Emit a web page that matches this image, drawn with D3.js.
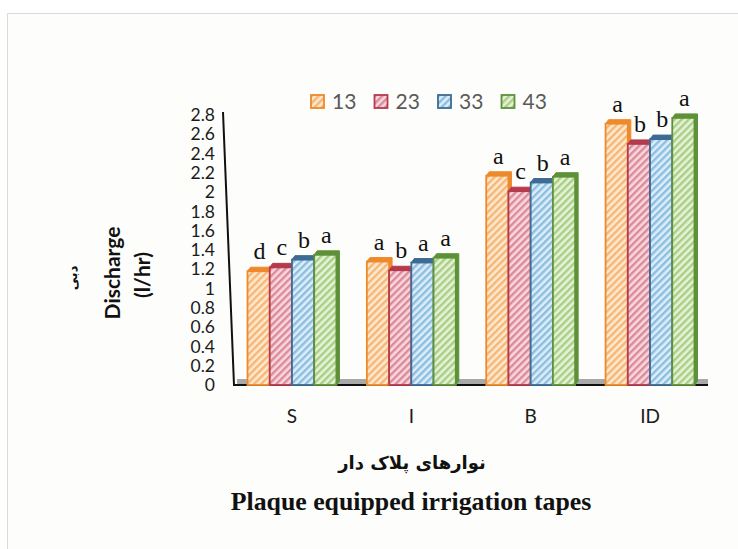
<!DOCTYPE html>
<html lang="en">
<head>
    <meta charset="UTF-8">
    <title>Discharge of plaque equipped irrigation tapes</title>
    <script src="https://d3js.org/d3.v7.min.js"></script>
    <style>
        body { margin: 0; background: #fff; }
        svg { display: block; }
    </style>
</head>
<body>
    <svg width="738" height="549"></svg>

    <script>
        // Data
        const categories = ["S", "I", "B", "ID"];
        const seriesNames = ["13", "23", "33", "43"];
        const values13 = [1.18, 1.28, 2.17, 2.71];
        const values23 = [1.22, 1.19, 2.01, 2.50];
        const values33 = [1.30, 1.27, 2.10, 2.55];
        const values43 = [1.35, 1.32, 2.16, 2.77];
        const letters13 = ["d", "a", "a", "a"];
        const letters23 = ["c", "b", "c", "b"];
        const letters33 = ["b", "a", "b", "b"];
        const letters43 = ["a", "a", "a", "a"];
        const yTicks = [0, 0.2, 0.4, 0.6, 0.8, 1, 1.2, 1.4, 1.6, 1.8, 2, 2.2, 2.4, 2.6, 2.8];

        const allValues = [values13, values23, values33, values43];
        const allLetters = [letters13, letters23, letters33, letters43];

        // colours: [edge, background, stripe]
        const palette = [
            ["#EE8A2C", "#FDE9CF", "#F6B676"],
            ["#B53A4D", "#F8D8DE", "#DC8A99"],
            ["#3E6B94", "#DCEEF9", "#8DBEDF"],
            ["#5E9138", "#E6F2D8", "#A9CF85"]
        ];

        const svg = d3.select("svg");

        // outer frame
        svg.append("rect")
            .attr("x", 7.5).attr("y", 13.5)
            .attr("width", 740).attr("height", 545)
            .attr("fill", "#FDFDFB")
            .attr("stroke", "#DEDAD4");

        // hatch patterns
        const defs = svg.append("defs");
        palette.forEach((c, i) => {
            const p = defs.append("pattern")
                .attr("id", "hatch" + i)
                .attr("patternUnits", "userSpaceOnUse")
                .attr("width", 5).attr("height", 5)
                .attr("patternTransform", "rotate(45)");
            p.append("rect").attr("width", 5).attr("height", 5).attr("fill", c[1]);
            p.append("rect").attr("width", 2.4).attr("height", 5).attr("fill", c[2]);
        });

        const x0 = d3.scaleBand()
            .domain(categories)
            .range([232, 710])
            .paddingInner(0.255)
            .paddingOuter(0.13);

        const x1 = d3.scaleBand()
            .domain(seriesNames)
            .range([0, x0.bandwidth()]);

        const y = d3.scaleLinear()
            .domain([0, 2.8])
            .range([385, 115]);

        // floor + axis line
        svg.append("rect")
            .attr("x", 237).attr("y", 379)
            .attr("width", 471).attr("height", 5)
            .attr("fill", "#A9A9A9");
        svg.append("path")
            .attr("d", "M223,112 L234,385 L708,385")
            .attr("fill", "none")
            .attr("stroke", "#111")
            .attr("stroke-width", 2);

        // y axis labels
        const yAxis = svg.append("g")
            .attr("transform", "translate(215,0)")
            .call(d3.axisLeft(y).tickValues(yTicks).tickSize(0).tickPadding(0)
                .tickFormat(d => String(+d.toFixed(1))));
        yAxis.select(".domain").remove();
        yAxis.selectAll("text")
            .attr("font-family", "Lato, 'Open Sans', sans-serif")
            .attr("font-size", 17.5)
            .attr("fill", "#1a1a1a");

        // x axis labels
        const xAxis = svg.append("g")
            .attr("transform", "translate(0,409.5)")
            .call(d3.axisBottom(x0).tickSize(0).tickPadding(0));
        xAxis.select(".domain").remove();
        xAxis.selectAll("text")
            .attr("font-family", "Lato, 'Open Sans', sans-serif")
            .attr("font-size", 19)
            .attr("fill", "#1a1a1a");

        // bars (front face + 3D top)
        const dx = 3, dy = 4;
        const rows = [];
        categories.forEach((cat, ci) => {
            seriesNames.forEach((s, si) => {
                rows.push({ cat, s, si, v: allValues[si][ci], letter: allLetters[si][ci] });
            });
        });

        const bars = svg.append("g").selectAll("g")
            .data(rows)
            .join("g")
            .attr("transform", d => `translate(${x0(d.cat) + x1(d.s)},0)`);

        const bw = x1.bandwidth();

        bars.append("path")
            .attr("d", d => {
                const t = y(d.v);
                return `M0,${t} L${dx},${t - dy} L${bw + dx},${t - dy} L${bw + dx},${y(0) - dy} L${bw},${y(0)} L${bw},${t} Z`;
            })
            .attr("fill", d => palette[d.si][0])
            .attr("stroke", d => palette[d.si][0])
            .attr("stroke-width", 1);

        bars.append("rect")
            .attr("x", 0)
            .attr("y", d => y(d.v))
            .attr("width", bw)
            .attr("height", d => y(0) - y(d.v))
            .attr("fill", d => `url(#hatch${d.si})`)
            .attr("stroke", d => palette[d.si][0])
            .attr("stroke-width", 1.8);

        bars.append("text")
            .attr("x", bw / 2 + 1)
            .attr("y", d => y(d.v) - dy - 8)
            .attr("text-anchor", "middle")
            .attr("font-family", "'Liberation Serif', 'Times New Roman', serif")
            .attr("font-size", 24)
            .attr("fill", "#111")
            .text(d => d.letter);

        // legend
        const legend = svg.append("g").selectAll("g")
            .data(seriesNames)
            .join("g")
            .attr("transform", (d, i) => `translate(${311 + i * 63.5},95)`);
        legend.append("rect")
            .attr("width", 13).attr("height", 13)
            .attr("fill", (d, i) => `url(#hatch${i})`)
            .attr("stroke", (d, i) => palette[i][0])
            .attr("stroke-width", 1.8);
        legend.append("text")
            .attr("x", 21).attr("y", 13.5)
            .attr("font-family", "Lato, 'Open Sans', sans-serif")
            .attr("font-size", 21)
            .attr("fill", "#595959")
            .text(d => d);

        // axis titles
        svg.append("text")
            .attr("transform", "translate(120,273) rotate(-90)")
            .attr("text-anchor", "middle")
            .attr("font-family", "Lato, 'Open Sans', sans-serif")
            .attr("font-weight", "bold")
            .attr("font-size", 21)
            .attr("fill", "#111")
            .text("Discharge");
        svg.append("text")
            .attr("transform", "translate(150,275) rotate(-90)")
            .attr("text-anchor", "middle")
            .attr("font-family", "Lato, 'Open Sans', sans-serif")
            .attr("font-weight", "bold")
            .attr("font-size", 21)
            .attr("fill", "#111")
            .text("(l/hr)");
        svg.append("text")
            .attr("transform", "translate(77,278) rotate(-90)")
            .attr("text-anchor", "middle")
            .attr("font-family", "'DejaVu Sans', sans-serif")
            .attr("font-weight", "bold")
            .attr("font-size", 13)
            .attr("fill", "#111")
            .text("دبی");

        svg.append("text")
            .attr("x", 412).attr("y", 469)
            .attr("text-anchor", "middle")
            .attr("direction", "rtl")
            .attr("font-family", "'DejaVu Sans', sans-serif")
            .attr("font-weight", "bold")
            .attr("font-size", 18)
            .attr("fill", "#111")
            .text("نوارهای پلاک دار");
        svg.append("text")
            .attr("x", 411).attr("y", 510)
            .attr("text-anchor", "middle")
            .attr("font-family", "'Liberation Serif', 'Times New Roman', serif")
            .attr("font-weight", "bold")
            .attr("font-size", 25.8)
            .attr("fill", "#111")
            .text("Plaque equipped irrigation tapes");
    </script>
</body>
</html>
